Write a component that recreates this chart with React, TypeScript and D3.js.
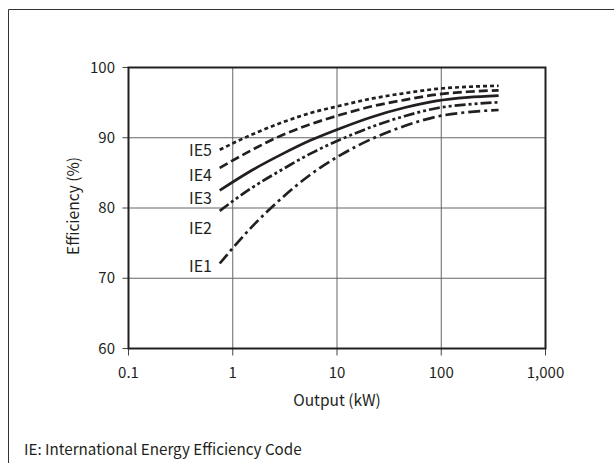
import React from "react";
import * as d3 from "d3";

const outputKW = [0.75, 1.5, 3, 5.5, 11, 22, 45, 90, 180, 355];
const ie1 = [72.1, 77.2, 81.5, 84.7, 87.6, 89.9, 91.7, 93.0, 93.65, 93.95];
const ie2 = [79.6, 82.8, 85.5, 87.7, 89.8, 91.6, 93.1, 94.2, 94.75, 95.05];
const ie3 = [82.5, 85.3, 87.7, 89.6, 91.4, 93.0, 94.3, 95.25, 95.75, 96.0];
const ie4 = [85.7, 88.2, 90.4, 91.9, 93.3, 94.5, 95.4, 96.15, 96.55, 96.75];
const ie5 = [88.3, 90.4, 92.2, 93.5, 94.6, 95.6, 96.35, 96.95, 97.25, 97.4];

const seriesNames = ["IE5", "IE4", "IE3", "IE2", "IE1"];
const seriesValues = [ie5, ie4, ie3, ie2, ie1];
const dashes = ["4 3", "9 4", "", "11 3 3 3 3 3", "12 4 3 4"];
const labelY = [150, 175, 198, 228, 266];

const xTicks = [0.1, 1, 10, 100, 1000];
const xTickLabels = ["0.1", "1", "10", "100", "1,000"];
const yTicks = [60, 70, 80, 90, 100];

const FONT = "'Noto Sans CJK JP', 'Noto Sans', sans-serif";

export default function App() {
  const W = 614, H = 463;
  const x = d3.scaleLog().domain([0.1, 1000]).range([128.5, 545.5]);
  const y = d3.scaleLinear().domain([60, 100]).range([348.5, 67.5]);
  const line = d3
    .line<[number, number]>()
    .x((d) => x(d[0]))
    .y((d) => y(d[1]))
    .curve(d3.curveMonotoneX);

  return (
    <svg width={W} height={H} style={{ position: "absolute", left: 0, top: 0, background: "#fff" }}>
      <rect x={0} y={0} width={W} height={H} fill="#fff" />
      <path d={`M8.5,${H} V9.5 H${W}`} fill="none" stroke="#333" strokeWidth={1} />
      {/* grid */}
      {xTicks.slice(1, -1).map((t) => (
        <line key={"gx" + t} x1={x(t)} x2={x(t)} y1={y(100)} y2={y(60)} stroke="#666" strokeWidth={1} />
      ))}
      {yTicks.slice(1, -1).map((t) => (
        <line key={"gy" + t} x1={x(0.1)} x2={x(1000)} y1={y(t)} y2={y(t)} stroke="#666" strokeWidth={1} />
      ))}
      {/* ticks */}
      {yTicks.map((t) => (
        <g key={"yt" + t}>
          <line x1={x(0.1) - 6} x2={x(0.1)} y1={y(t)} y2={y(t)} stroke="#444" strokeWidth={1} />
          <text x={115} y={y(t) + 5} textAnchor="end" fontSize={15} fontFamily={FONT} fill="#231f20">
            {t}
          </text>
        </g>
      ))}
      {xTicks.map((t, i) => (
        <g key={"xt" + t}>
          <line x1={x(t)} x2={x(t)} y1={y(60)} y2={y(60) + 7} stroke="#444" strokeWidth={1} />
          <text x={x(t)} y={378} textAnchor="middle" fontSize={15} fontFamily={FONT} fill="#231f20">
            {xTickLabels[i]}
          </text>
        </g>
      ))}
      {/* frame */}
      <rect x={x(0.1)} y={y(100)} width={x(1000) - x(0.1)} height={y(60) - y(100)} fill="none" stroke="#231f20" strokeWidth={2} />
      {/* curves */}
      {seriesValues.map((vals, i) => (
        <path
          key={seriesNames[i]}
          d={line(outputKW.map((k, j) => [k, vals[j]] as [number, number])) || ""}
          fill="none"
          stroke="#231f20"
          strokeWidth={2.7}
          strokeDasharray={dashes[i] || undefined}
        />
      ))}
      {seriesNames.map((n, i) => (
        <text key={"l" + n} x={212} y={labelY[i] + 6} textAnchor="end" fontSize={16} fontFamily={FONT} fill="#231f20">
          {n}
        </text>
      ))}
      <text x={337} y={406} textAnchor="middle" fontSize={15.5} fontFamily={FONT} fill="#231f20">
        Output (kW)
      </text>
      <text transform="translate(79,206) rotate(-90)" textAnchor="middle" fontSize={15.5} fontFamily={FONT} fill="#231f20">
        Efficiency (%)
      </text>
      <text x={24} y={455} fontSize={15.2} fontFamily={FONT} fill="#231f20">
        IE: International Energy Efficiency Code
      </text>
    </svg>
  );
}
